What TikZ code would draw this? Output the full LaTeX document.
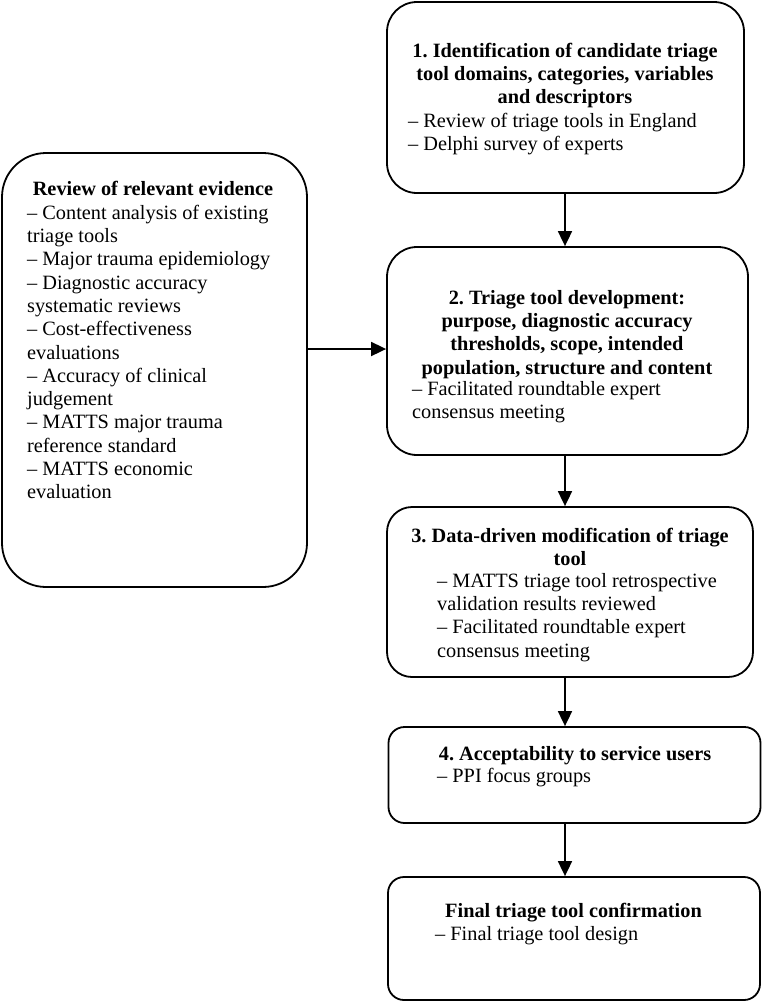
\documentclass[tikz,border=0pt]{standalone}
\usepackage{fontspec}
\setmainfont{Liberation Serif}
\usetikzlibrary{arrows.meta}
\begin{document}
\frenchspacing
\begin{tikzpicture}[x=1pt,y=-1pt,
  box/.style={draw, line width=1.8pt, rounded corners=#1, inner sep=0pt},
  arr/.style={line width=1.8pt, -{Triangle[width=14pt,length=15pt]}},
  txt/.style={inner sep=0pt, font=\fontsize{20.3}{23.3}\selectfont},
  ttl/.style={txt, anchor=north, align=center, font=\fontsize{20.3}{23.3}\selectfont\bfseries},
  bul/.style={txt, anchor=north west, align=left}]
\useasboundingbox (0,0) rectangle (762,1005);
% boxes
\node[box=44pt, minimum width=305pt, minimum height=434pt] (L) at (154.5,370) {};
\node[box=30pt, minimum width=357pt, minimum height=191pt] (b1) at (565.5,97.5) {};
\node[box=30pt, minimum width=361pt, minimum height=208pt] (b2) at (567.5,351) {};
\node[box=25pt, minimum width=366pt, minimum height=170pt] (b3) at (570,592) {};
\node[box=16pt, minimum width=372pt, minimum height=96pt] (b4) at (574.5,775) {};
\node[box=16pt, minimum width=372pt, minimum height=123pt] (b5) at (574,938.5) {};
% texts
\node[ttl] (t1) at (565,40.7) {\strut 1. Identification of candidate triage\\tool domains, categories, variables\\and descriptors};
\node[bul] (u1) at (408,110.7) {\strut – Review of triage tools in England\\– Delphi survey of experts};
\node[ttl] (tL) at (153,178.7) {\strut Review of relevant evidence};
\node[bul] (uL) at (27,202.7) {\strut – Content analysis of existing\\triage tools\\– Major trauma epidemiology\\– Diagnostic accuracy\\systematic reviews\\– Cost-effectiveness\\evaluations\\– Accuracy of clinical\\judgement\\– MATTS major trauma\\reference standard\\– MATTS economic\\evaluation};
\node[ttl] (t2) at (567,287.7) {\strut 2. Triage tool development:\\purpose, diagnostic accuracy\\thresholds, scope, intended\\population, structure and content};
\node[bul] (u2) at (412,378.7) {\strut – Facilitated roundtable expert\\consensus meeting};
\node[ttl] (t3) at (570,525.7) {\strut 3. Data-driven modification of triage\\tool};
\node[bul] (u3) at (437,570.7) {\strut – MATTS triage tool retrospective\\validation results reviewed\\– Facilitated roundtable expert\\consensus meeting};
\node[ttl] (t4) at (575,743.7) {\strut 4. Acceptability to service users};
\node[bul] (u4) at (437,765.7) {\strut – PPI focus groups};
\node[ttl] (t5) at (573.5,900.7) {\strut Final triage tool confirmation};
\node[bul] (u5) at (435,923.7) {\strut – Final triage tool design};
% connectors
\coordinate (h) at (0,349);
\coordinate (v) at (565,0);
\draw[arr] (L.east |- h) -- (b2.west |- h);
\draw[arr] (v |- b1.south) -- (v |- b2.north);
\draw[arr] (v |- b2.south) -- (v |- b3.north);
\draw[arr] (v |- b3.south) -- (v |- b4.north);
\draw[arr] (v |- b4.south) -- (v |- b5.north);
\end{tikzpicture}
\end{document}
